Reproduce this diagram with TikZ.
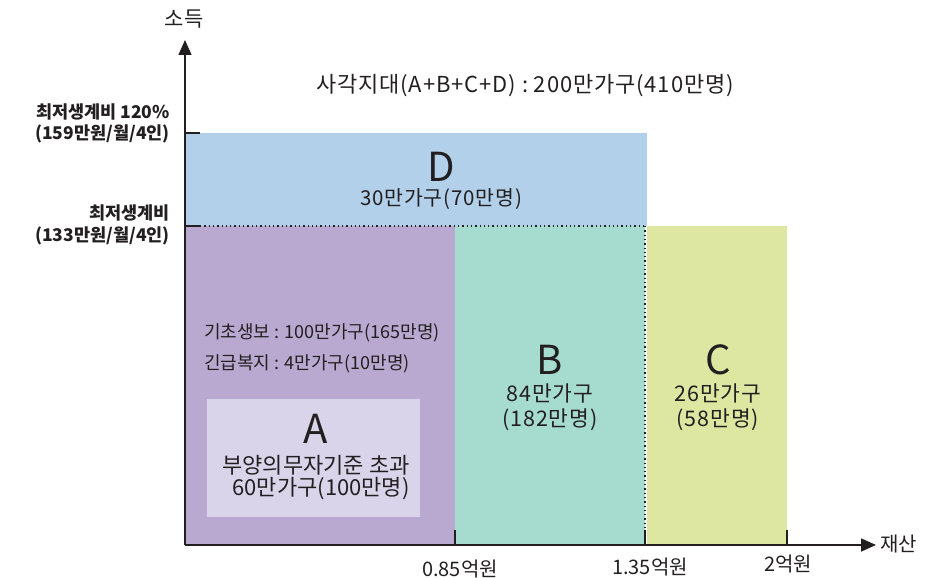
\documentclass[tikz,border=0pt]{standalone}
\usepackage{fontspec}
\setmainfont{Noto Sans CJK KR}
\newfontfamily\krs[LetterSpace=4]{Noto Sans CJK KR}
\usetikzlibrary{arrows.meta}
\definecolor{dblue}{HTML}{B3D0EA}
\definecolor{apurple}{HTML}{B9A9D1}
\definecolor{alight}{HTML}{DAD4EA}
\definecolor{bteal}{HTML}{A6DBCF}
\definecolor{cgreen}{HTML}{DDE7A2}
\definecolor{ink}{HTML}{231F20}
\begin{document}
\begin{tikzpicture}[x=1pt,y=-1pt,
  txt/.style={text=ink, inner sep=0pt},
  sp/.style={txt, font=\krs\fontsize{#1}{#1}\selectfont},
  pl/.style={txt, font=\fontsize{#1}{#1}\selectfont},
  big/.style={font=\fontsize{40}{40}\selectfont, text=ink, inner sep=0pt},
  side/.style={font=\fontsize{17.5}{18}\selectfont\bfseries, text=ink, inner sep=0pt, anchor=east},
  axis/.style={line width=1.6pt, draw=ink},
  tick/.style={line width=1.4pt, draw=ink},
  dots/.style={line width=1.3pt, draw=ink, dash pattern=on 1.3pt off 3pt}]
\useasboundingbox (0,0) rectangle (938,578);
% regions
\fill[dblue] (185,133) rectangle (647,226);
\fill[apurple] (185,226) rectangle (455,545);
\fill[bteal] (455,226) rectangle (645,545);
\fill[cgreen] (647,226) rectangle (787,545);
\fill[alight] (207,399) rectangle (420,517);
% dotted boundaries
\draw[dots] (200,226) -- (647,226);
\draw[dots] (645,226) -- (645,530);
% ticks
\draw[tick] (185,133) -- (200,133);
\draw[tick] (185,226) -- (200,226);
\draw[tick] (455,530) -- (455,545);
\draw[tick] (645,530) -- (645,545);
\draw[tick] (787,530) -- (787,545);
% axes
\coordinate (o) at (185,545);
\coordinate (ytip) at (185,40);
\coordinate (xtip) at (876,545);
\draw[axis, -{Triangle[length=15pt,width=13pt]}] (o) -- (ytip);
\draw[axis, -{Triangle[length=15pt,width=13pt]}] (o) -- (xtip);
\node[pl=21] (ylab) at (184,19) {소득};
\node[pl=20, anchor=west] (xlab) at (880,544) {재산};
% side labels
\node[side] (s1) at (170,112) {최저생계비 120\%};
\node[side] (s2) at (170,134) {(159만원/월/4인)};
\node[side] (s3) at (170,213) {최저생계비};
\node[side] (s4) at (170,236) {(133만원/월/4인)};
% title
\node[sp=22] (title) at (525,86) {사각지대(A+B+C+D) : 200만가구(410만명)};
% D
\node[big] (D) at (441,167) {D};
\node[sp=20.5] (d1) at (441,199) {30만가구(70만명)};
% A
\node[pl=18, anchor=west] (a1) at (204,333) {기초생보 : 100만가구(165만명)};
\node[pl=18, anchor=west] (a2) at (204,364) {긴급복지 : 4만가구(10만명)};
\node[big] (A) at (316,429) {A};
\node[pl=22] (a3) at (316,465) {부양의무자기준 초과};
\node[pl=22] (a4) at (321,489) {60만가구(100만명)};
% B
\node[big] (B) at (550,360) {B};
\node[sp=21.5] (b1) at (550,393) {84만가구};
\node[sp=21.5] (b2) at (550,420) {(182만명)};
% C
\node[big] (C) at (718,360) {C};
\node[sp=21.5] (c1) at (718,393) {26만가구};
\node[sp=21.5] (c2) at (718,420) {(58만명)};
% x labels
\node[pl=20] (x1) at (460,569) {0.85억원};
\node[pl=20] (x2) at (650,567) {1.35억원};
\node[pl=20] (x3) at (788,564) {2억원};
\end{tikzpicture}
\end{document}
